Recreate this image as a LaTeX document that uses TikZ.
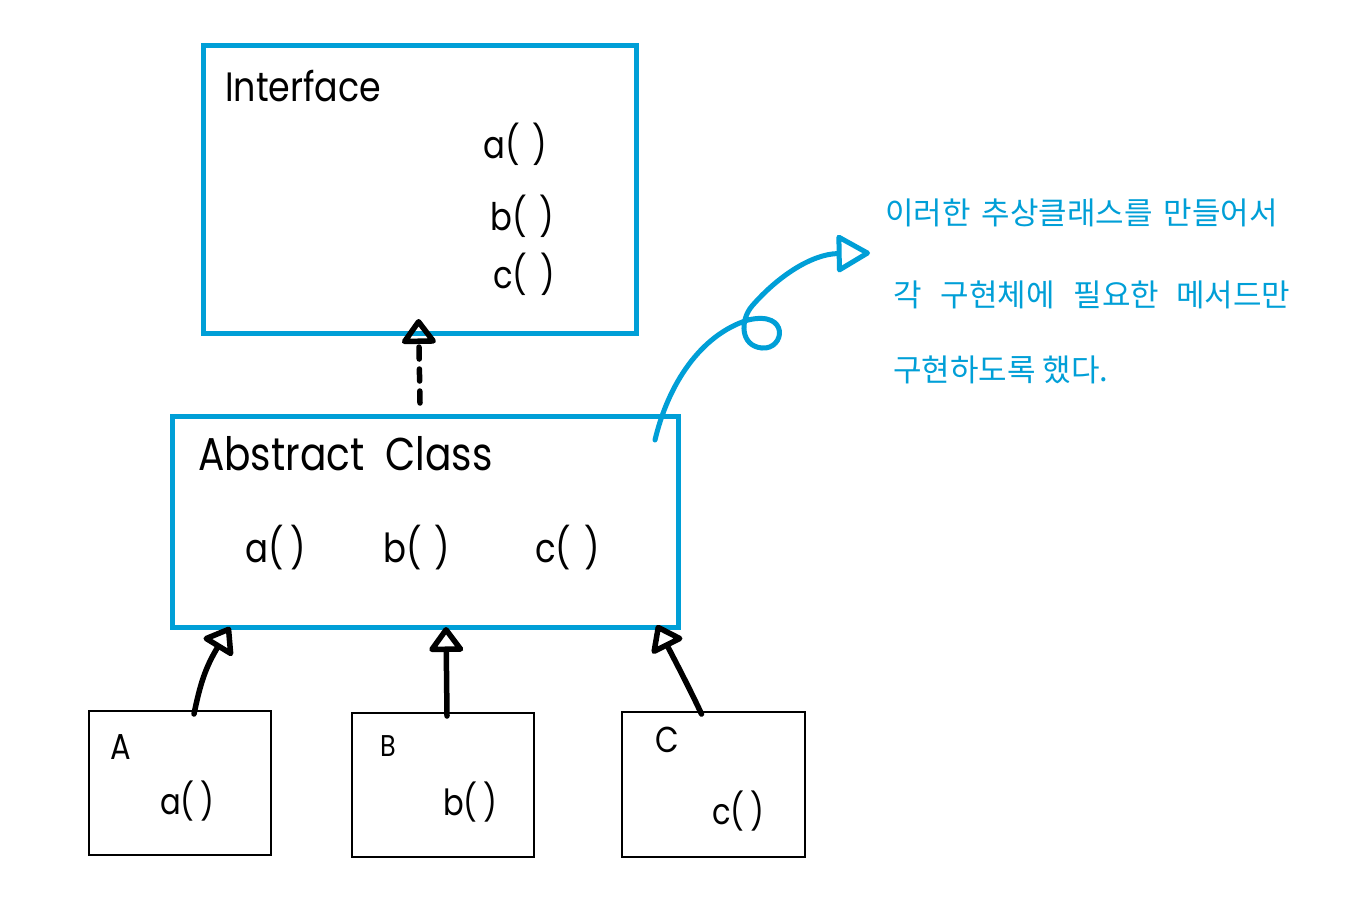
\documentclass[tikz,border=0pt]{standalone}
\usepackage{fontspec}
\setmainfont{Poppins}[FakeStretch=0.85]
\newfontfamily\kr{Noto Sans CJK KR}
\usetikzlibrary{arrows.meta}
\definecolor{hblue}{RGB}{0,159,215}
\begin{document}
\begin{tikzpicture}[x=1pt,y=-1pt,
  bluebox/.style={draw=hblue,line width=5pt,inner sep=0pt,outer sep=0pt},
  blackbox/.style={draw=black,line width=2.5pt,inner sep=0pt,outer sep=0pt},
  lbl/.style={anchor=base west,inner sep=0pt,font=\fontsize{#1}{#1}\selectfont},
  krtxt/.style={anchor=west,inner sep=0pt,text=hblue,font=\kr\fontsize{31}{31}\selectfont},
  inh/.style={draw=black,line width=5.5pt,line cap=round,-{Triangle[open,round,length=27pt,width=38pt]}},
  dashpat/.style={dash pattern=on 12pt off 10pt},
  note/.style={draw=hblue,line width=5pt,line cap=round,-{Triangle[open,round,length=36pt,width=40pt]}}]
\fill[white] (0,0) rectangle (1362,898);
\useasboundingbox (0,0) rectangle (1362,898);
% boxes
\node[bluebox,minimum width=433pt,minimum height=288pt] (Intf) at (419.5,189) {};
\node[bluebox,minimum width=506pt,minimum height=211pt] (Abs) at (425,521.5) {};
\node[blackbox,minimum width=182pt,minimum height=144pt] (A) at (180,783) {};
\node[blackbox,minimum width=182pt,minimum height=144pt] (B) at (443,785) {};
\node[blackbox,minimum width=183pt,minimum height=145pt] (C) at (713.5,784.5) {};
% texts
\node[lbl=41] (tI) at (225,101) {Interface};
\node[lbl=38] (tia) at (483,158) {a(\,\,)};
\node[lbl=38] (tib) at (490,230) {b(\,\,)};
\node[lbl=38] (tic) at (493,288) {c(\,\,)};
\node[lbl=46] (tAbs) at (198,470) {Abstract\ \ Class};
\node[lbl=40] (taa) at (245,562) {a(\,)};
\node[lbl=40] (tab) at (383,562) {b(\,\,)};
\node[lbl=40] (tac) at (535,562) {c(\,\,)};
\node[lbl=36] (tA) at (110,759) {A};
\node[lbl=36] (tAa) at (160,814) {a(\,)};
\node[lbl=30] (tB) at (380,756) {B};
\node[lbl=36] (tBb) at (443,815) {b(\,)};
\node[lbl=36] (tC) at (655,752) {C};
\node[lbl=36] (tCc) at (712,824) {c(\,)};
\node[krtxt] (k1) at (885,213) {이러한\hspace{4pt} 추상클래스를\hspace{4pt} 만들어서};
\node[krtxt] (k2) at (893,295) {각\hspace{12pt} 구현체에\hspace{12pt} 필요한\hspace{10pt} 메서드만};
\node[krtxt] (k3) at (893,370) {구현하도록 했다.};
% arrows
\draw[inh,dashpat] ([xshift=-5pt,yshift=13pt]Abs.north) -- ([xshift=-1pt,yshift=14pt]Intf.south);
\draw[inh] ([xshift=14pt,yshift=-3pt]A.north) .. controls (200,685) and (205,668) .. ([xshift=-195pt]Abs.south);
\draw[inh] ([xshift=4pt,yshift=-3pt]B.north) -- ([xshift=21pt]Abs.south);
\draw[inh] ([xshift=-12pt,yshift=-2pt]C.north) .. controls (688,685) and (672,655) .. ([xshift=232pt,yshift=2pt]Abs.south);
\coordinate (ntip) at (870,253);
\draw[note] ([xshift=-23pt,yshift=-24pt]Abs.north east) .. controls (668,385) and (700,335) .. (748,320) .. controls (790,310) and (785,350) .. (762,348) .. controls (740,346) and (740,320) .. (752,306) .. controls (778,276) and (812,254) .. (ntip);
\end{tikzpicture}
\end{document}
